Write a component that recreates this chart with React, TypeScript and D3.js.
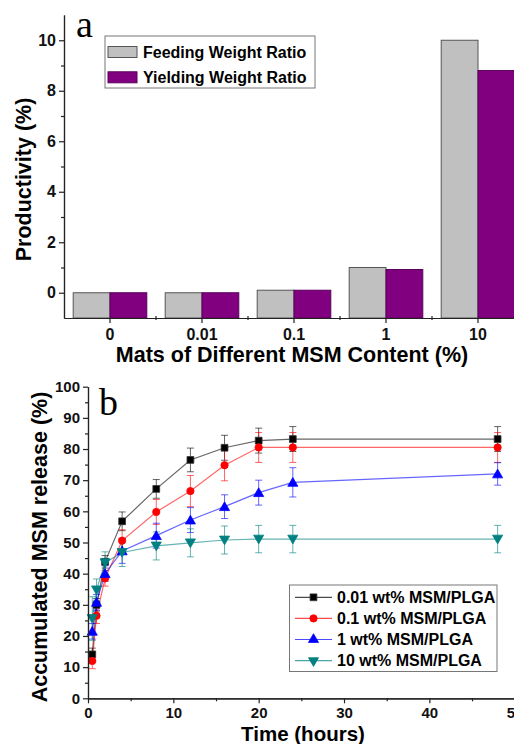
import React, { useEffect, useRef } from 'react';
import * as d3 from 'd3';

// panel a: productivity per mat
const matCategories = ['0', '0.01', '0.1', '1', '10'];
const feedingRatio = [0, 0, 0.1, 1, 10];
const yieldingRatio = [0, 0, 0.1, 0.92, 8.8];
const productivityTicks = [0, 2, 4, 6, 8, 10];

// panel b: release curves
const hours = [0.5, 1, 2, 4, 8, 12, 16, 20, 24, 48];
const release001 = [14.1, 30, 43.8, 56.8, 67.2, 76.5, 80.4, 82.7, 83.2, 83.2];
const err001 = [2, 2, 2, 3, 3, 3.8, 4, 4, 4, 4];
const release01 = [12, 26.5, 38.5, 50.6, 59.8, 66.5, 74.8, 80.5, 80.5, 80.5];
const err01 = [2.5, 2.5, 2.5, 3.5, 4, 5, 5, 4.8, 4.8, 4.8];
const release1 = [21.5, 30.8, 40, 47.3, 52.2, 57.2, 61.5, 66, 69.3, 72];
const err1 = [2.5, 2.5, 2.5, 4, 4, 4, 3.8, 4, 4.7, 3.6];
const release10 = [25.6, 34.8, 43.5, 46.8, 48.9, 49.9, 50.8, 51.1, 51.1, 51.1];
const err10 = [7, 3.5, 3.5, 4.5, 4.5, 4.5, 4.5, 4.4, 4.4, 4.4];
const releaseLabels = ['0.01 wt% MSM/PLGA', '0.1 wt% MSM/PLGA', '1 wt% MSM/PLGA', '10 wt% MSM/PLGA'];
const releaseColors = ['#000000', '#ff0000', '#0000ff', '#008080'];

const FONT = '"Liberation Sans", Arial, sans-serif';
const SERIF = '"Liberation Serif", "Times New Roman", serif';

const App: React.FC = () => {
  const ref = useRef<SVGSVGElement>(null);

  useEffect(() => {
    if (!ref.current) return;
    const svg = d3.select(ref.current);
    svg.selectAll('*').remove();

    const styleAxis = (g: d3.Selection<SVGGElement, unknown, null, undefined>, size: number) => {
      g.selectAll('path').attr('stroke', '#222').attr('stroke-width', 1.2);
      g.selectAll('line').attr('stroke', '#222').attr('stroke-width', 1.2);
      g.selectAll('text')
        .attr('fill', '#111')
        .style('font-family', FONT)
        .style('font-weight', 'bold')
        .style('font-size', `${size}px`);
    };

    // ---------- panel a ----------
    const ay = d3.scaleLinear().domain([-1, 11]).range([318, 15]);
    const ax = d3.scaleBand<string>().domain(matCategories).range([64, 524]);
    const inner = d3.scaleBand<string>().domain(['feed', 'yield']).range([0, ax.bandwidth()]).paddingOuter(0.25);

    const a = svg.append('g');

    const groups = a
      .selectAll('g.cat')
      .data(matCategories)
      .enter()
      .append('g')
      .attr('transform', (d) => `translate(${ax(d)},0)`);

    groups
      .append('rect')
      .attr('x', inner('feed')!)
      .attr('width', inner.bandwidth())
      .attr('y', (_d, i) => ay(feedingRatio[i]))
      .attr('height', (_d, i) => ay(-1) - ay(feedingRatio[i]))
      .attr('fill', '#c0c0c0')
      .attr('stroke', '#555')
      .attr('stroke-width', 1);

    groups
      .append('rect')
      .attr('x', inner('yield')!)
      .attr('width', inner.bandwidth())
      .attr('y', (_d, i) => ay(yieldingRatio[i]))
      .attr('height', (_d, i) => ay(-1) - ay(yieldingRatio[i]))
      .attr('fill', '#800080')
      .attr('stroke', '#5a005a')
      .attr('stroke-width', 1);

    const ayAxis = a
      .append('g')
      .attr('transform', 'translate(64,0)')
      .call(d3.axisLeft(ay).tickValues(productivityTicks).tickSize(5).tickSizeOuter(0).tickPadding(3));
    styleAxis(ayAxis, 16);
    const ayMinor = a
      .append('g')
      .attr('transform', 'translate(64,0)')
      .call(d3.axisLeft(ay).tickValues([1, 3, 5, 7, 9]).tickSize(3).tickSizeOuter(0).tickFormat(() => ''));
    styleAxis(ayMinor, 16);

    const axAxis = a
      .append('g')
      .attr('transform', `translate(0,${ay(-1)})`)
      .call(d3.axisBottom(ax).tickSize(5).tickSizeOuter(0).tickPadding(6));
    styleAxis(axAxis, 16);
    a.append('g')
      .selectAll('line')
      .data(matCategories.slice(1))
      .enter()
      .append('line')
      .attr('x1', (d) => ax(d)!)
      .attr('x2', (d) => ax(d)!)
      .attr('y1', ay(-1) - 2)
      .attr('y2', ay(-1) + 2)
      .attr('stroke', '#222')
      .attr('stroke-width', 1.2);

    a.append('text')
      .attr('transform', `translate(31,${(ay(-1) + ay(11)) / 2 + 13}) rotate(-90)`)
      .attr('text-anchor', 'middle')
      .style('font-family', FONT)
      .style('font-weight', 'bold')
      .style('font-size', '21.5px')
      .text('Productivity (%)');

    a.append('text')
      .attr('x', 292)
      .attr('y', 362)
      .attr('text-anchor', 'middle')
      .style('font-family', FONT)
      .style('font-weight', 'bold')
      .style('font-size', '21.5px')
      .text('Mats of Different MSM Content (%)');

    a.append('text')
      .attr('x', 76)
      .attr('y', 37)
      .style('font-family', SERIF)
      .style('font-size', '38px')
      .text('a');

    const legA = a.append('g');
    legA
      .append('rect')
      .attr('x', 105)
      .attr('y', 36)
      .attr('width', 210)
      .attr('height', 52)
      .attr('fill', '#fff')
      .attr('stroke', '#777')
      .attr('stroke-width', 1);
    [
      { label: 'Feeding Weight Ratio', fill: '#c0c0c0', stroke: '#555' },
      { label: 'Yielding Weight Ratio', fill: '#800080', stroke: '#5a005a' },
    ].forEach((d, i) => {
      const cy = 52 + i * 25.3;
      legA
        .append('rect')
        .attr('x', 108)
        .attr('y', cy - 5.5)
        .attr('width', 29)
        .attr('height', 11)
        .attr('fill', d.fill)
        .attr('stroke', d.stroke);
      legA
        .append('text')
        .attr('x', 143)
        .attr('y', cy + 5.7)
        .style('font-family', FONT)
        .style('font-weight', 'bold')
        .style('font-size', '16px')
        .text(d.label);
    });

    // ---------- panel b ----------
    const by = d3.scaleLinear().domain([0, 100]).range([698.3, 386.7]);
    const bx = d3.scaleLinear().domain([0, 50]).range([88, 514.7]);
    const b = svg.append('g');

    const series = [
      { values: release001, errs: err001, symbol: d3.symbolSquare, size: 46, rot: 0 },
      { values: release01, errs: err01, symbol: d3.symbolCircle, size: 42, rot: 0 },
      { values: release1, errs: err1, symbol: d3.symbolTriangle, size: 44, rot: 0 },
      { values: release10, errs: err10, symbol: d3.symbolTriangle, size: 44, rot: 180 },
    ];

    const line = d3
      .line<number>()
      .x((_d, i) => bx(hours[i]))
      .y((d) => by(d));

    series.forEach((s, k) => {
      const color = releaseColors[k];
      const g = b.append('g');
      // error bars
      hours.forEach((h, i) => {
        const x = bx(h);
        const y1 = by(s.values[i] + s.errs[i]);
        const y2 = by(s.values[i] - s.errs[i]);
        g.append('line').attr('x1', x).attr('x2', x).attr('y1', y1).attr('y2', y2);
        g.append('line').attr('x1', x - 3.5).attr('x2', x + 3.5).attr('y1', y1).attr('y2', y1);
        g.append('line').attr('x1', x - 3.5).attr('x2', x + 3.5).attr('y1', y2).attr('y2', y2);
      });
      g.selectAll('line').attr('stroke', color).attr('stroke-width', 1).attr('opacity', 0.6);
      g.append('path')
        .attr('d', line(s.values) ?? '')
        .attr('fill', 'none')
        .attr('stroke', color)
        .attr('stroke-width', 1.2)
        .attr('opacity', 0.6);
    });

    series.forEach((s, k) => {
      const color = releaseColors[k];
      const sym = d3.symbol().type(s.symbol).size(s.size);
      b.append('g')
        .selectAll('path')
        .data(s.values)
        .enter()
        .append('path')
        .attr('d', sym() ?? '')
        .attr('transform', (d, i) => `translate(${bx(hours[i])},${by(d) + (s.rot ? -1 : s.symbol === d3.symbolTriangle ? 1 : 0)}) rotate(${s.rot})`)
        .attr('fill', color)
        .attr('stroke', k === 0 ? '#333' : color)
        .attr('stroke-width', 0.8);
    });

    const byAxis = b
      .append('g')
      .attr('transform', 'translate(88,0)')
      .call(d3.axisLeft(by).tickValues(d3.range(0, 101, 10)).tickSize(5).tickSizeOuter(0).tickPadding(3));
    styleAxis(byAxis, 15);
    const byMinor = b
      .append('g')
      .attr('transform', 'translate(88,0)')
      .call(d3.axisLeft(by).tickValues(d3.range(5, 100, 10)).tickSize(3).tickSizeOuter(0).tickFormat(() => ''));
    styleAxis(byMinor, 15);

    const bxAxis = b
      .append('g')
      .attr('transform', `translate(0,${by(0)})`)
      .call(d3.axisBottom(bx).tickValues([0, 10, 20, 30, 40, 50]).tickSize(5).tickSizeOuter(0).tickPadding(4));
    styleAxis(bxAxis, 15);
    const bxMinor = b
      .append('g')
      .attr('transform', `translate(0,${by(0)})`)
      .call(d3.axisBottom(bx).tickValues([5, 15, 25, 35, 45]).tickSize(3).tickSizeOuter(0).tickFormat(() => ''));
    styleAxis(bxMinor, 15);

    b.append('text')
      .attr('transform', `translate(47,547) rotate(-90)`)
      .attr('text-anchor', 'middle')
      .style('font-family', FONT)
      .style('font-weight', 'bold')
      .style('font-size', '21.5px')
      .text('Accumulated MSM release (%)');

    b.append('text')
      .attr('x', 303)
      .attr('y', 741)
      .attr('text-anchor', 'middle')
      .style('font-family', FONT)
      .style('font-weight', 'bold')
      .style('font-size', '20.5px')
      .text('Time (hours)');

    b.append('text')
      .attr('x', 99)
      .attr('y', 415)
      .style('font-family', SERIF)
      .style('font-size', '38px')
      .text('b');

    const legB = b.append('g');
    legB
      .append('rect')
      .attr('x', 289.5)
      .attr('y', 585)
      .attr('width', 207.5)
      .attr('height', 86.5)
      .attr('fill', '#fff')
      .attr('stroke', '#777')
      .attr('stroke-width', 1);
    releaseLabels.forEach((label, k) => {
      const cy = 597.3 + k * 21.1;
      const s = series[k];
      const color = releaseColors[k];
      legB
        .append('line')
        .attr('x1', 295)
        .attr('x2', 332)
        .attr('y1', cy)
        .attr('y2', cy)
        .attr('stroke', color)
        .attr('stroke-width', 1.2)
        .attr('opacity', 0.7);
      legB
        .append('path')
        .attr('d', d3.symbol().type(s.symbol).size(s.size)() ?? '')
        .attr('transform', `translate(313.5,${cy}) rotate(${s.rot})`)
        .attr('fill', color)
        .attr('stroke', k === 0 ? '#333' : color)
        .attr('stroke-width', 0.8);
      legB
        .append('text')
        .attr('x', 337)
        .attr('y', cy + 5.8)
        .style('font-family', FONT)
        .style('font-weight', 'bold')
        .style('font-size', '16px')
        .text(label);
    });
  }, []);

  return (
    <div style={{ position: 'absolute', left: 0, top: 0, width: 514, height: 744, background: '#fff' }}>
      <svg ref={ref} width={514} height={744} style={{ display: 'block' }} />
    </div>
  );
};

export default App;
